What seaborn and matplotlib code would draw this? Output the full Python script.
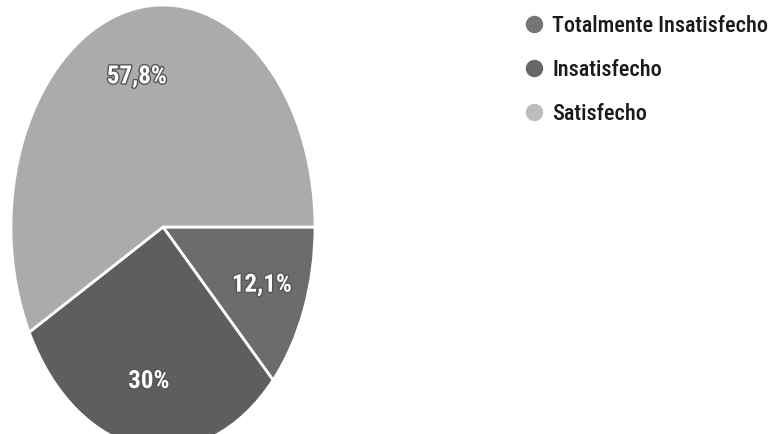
import matplotlib
matplotlib.use("Agg")
import matplotlib.pyplot as plt
import matplotlib.patheffects as pe
from matplotlib.lines import Line2D
import seaborn as sns

categories = ["Totalmente Insatisfecho", "Insatisfecho", "Satisfecho"]
values = [12.1, 30.0, 57.8]
pct_labels = ["12,1%", "30%", "57,8%"]
colors = ["#6c6c6c", "#5e5e5e", "#ababab"]
legend_colors = ["#747474", "#666666", "#bdbdbd"]

sns.set_theme(style="white")
plt.rcParams["font.family"] = ["Roboto Condensed", "Archivo Narrow", "DejaVu Sans"]

fig = plt.figure(figsize=(7.73, 4.34), dpi=100)
ax = fig.add_axes([11 / 773, -15 / 434, 304 / 773, 444 / 434])
wedges, texts, autotexts = ax.pie(
    values, colors=colors, startangle=0, counterclock=False,
    autopct="%1.1f%%", pctdistance=0.7,
    wedgeprops=dict(edgecolor="white", linewidth=2),
)
for t, lab in zip(autotexts, pct_labels):
    t.set_text(lab)
    t.set_color("white")
    t.set_fontsize(18)
    t.set_fontweight("bold")
    t.set_path_effects([pe.withStroke(linewidth=2, foreground="#555555")])
ax.set_aspect("auto")
ax.set_xlim(-1, 1)
ax.set_ylim(-1, 1)
ax.axis("off")

handles = [Line2D([], [], marker="o", linestyle="", markersize=11.5,
                  markerfacecolor=c, markeredgecolor=c) for c in legend_colors]
fig.legend(handles, categories, loc="upper left", bbox_to_anchor=(510 / 773, 0.997),
           frameon=False, labelspacing=1.0, handletextpad=0.3,
           handlelength=1.0, labelcolor="#1a1a1a", borderaxespad=0.2,
           prop=dict(family=["Roboto Condensed", "DejaVu Sans"], size=16, weight=500))

fig.savefig("out.png", dpi=100, facecolor="white")
